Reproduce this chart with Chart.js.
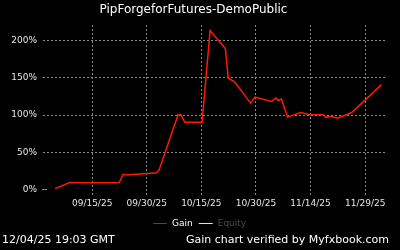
<!DOCTYPE html>
<html>
<head>
<meta charset="utf-8">
<script src="https://cdn.jsdelivr.net/npm/chart.js@4.4.0/dist/chart.umd.min.js"></script>
<style>
  body { margin: 0; background: #000; }
</style>
</head>
<body>
<canvas id="grafico" width="400" height="250"></canvas>
<script>
// dias contados desde el 09/15/25
const dias = [-10.2, -6.3, 7.4, 8.5, 9.5, 17.7, 18.4, 23.6, 24.4, 25.5, 30.2, 32.4, 36.6, 37.4, 39.2, 43.5,
  44.7, 49.3, 50.5, 51.1, 52.0, 53.7, 57.3, 59.8, 63.5, 64.2, 65.8, 67.3, 69.9, 71.3, 79.5];
// ganancia en %
const ganancia = [1, 8.9, 8.9, 20.3, 19.3, 22.4, 26.1, 100.4, 100.4, 90.3, 90.3, 213.9, 189.6, 150, 144.6, 116.2,
  124.3, 118.4, 123, 119.7, 121.6, 97.3, 103.5, 100.4, 100.4, 97.3, 98.1, 95.9, 100.4, 103.5, 141];

const diasEtiquetas = [0, 15, 30, 45, 60, 75];
const etiquetasX = ["09/15/25", "09/30/25", "10/15/25", "10/30/25", "11/14/25", "11/29/25"];
const valoresY = [0, 50, 100, 150, 200];
const series = ["Gain", "Equity"];

const fecha = "12/04/25 19:03 GMT";
const verificado = "Gain chart verified by Myfxbook.com";

const fuente = '"DejaVu Sans", sans-serif';
const gris = '#8a8a8a';
// colores de la leyenda: linea y texto
const lineaLeyenda = ['#ff0000', '#ffff00'];
const textoLeyenda = ['#ffffff', '#4a4a4a'];

// leyenda y textos de abajo
const pieDePagina = {
  id: 'pieDePagina',
  afterDraw(chart) {
    const ctx = chart.ctx;
    const area = chart.chartArea;
    const y0 = chart.scales.y.getPixelForValue(0);
    ctx.save();
    // rayita del 0%
    ctx.fillStyle = gris;
    ctx.fillRect(area.left - 1, Math.round(y0), 5, 1);

    ctx.font = '9px ' + fuente;
    ctx.textBaseline = 'middle';
    ctx.textAlign = 'left';
    let total = 0;
    const anchos = series.map((s, i) => {
      const w = ctx.measureText(s).width;
      total += 19 + w + (i ? 6 : 0);
      return w;
    });
    let x = Math.round(chart.width / 2 - total / 2);
    const yl = 223;
    series.forEach((s, i) => {
      ctx.fillStyle = lineaLeyenda[i];
      ctx.fillRect(x, yl, 14, 1);
      ctx.fillStyle = textoLeyenda[i];
      ctx.fillText(s, x + 19, yl + 0.5);
      x += 19 + anchos[i] + 6;
    });

    ctx.font = '11px ' + fuente;
    ctx.fillStyle = '#fff';
    ctx.textAlign = 'left';
    ctx.fillText(fecha, 2, 240.5);
    ctx.textAlign = 'right';
    ctx.fillText(verificado, 389, 240.5);
    ctx.restore();
  }
};

new Chart(document.getElementById('grafico'), {
  type: 'line',
  data: {
    datasets: [
      {
        label: series[0],
        data: dias.map((d, i) => ({ x: d, y: ganancia[i] })),
        borderColor: '#ff1a00',
        borderWidth: 1.5,
        pointRadius: 0,
        tension: 0
      },
      {
        label: series[1],
        data: [],
        borderColor: '#ffff00'
      }
    ]
  },
  options: {
    responsive: false,
    animation: false,
    layout: { padding: { left: 0, right: 13, top: 0, bottom: 38 } },
    plugins: {
      legend: { display: false },
      tooltip: { enabled: false },
      title: {
        display: true,
        text: 'PipForgeforFutures-DemoPublic',
        color: '#ffffff',
        font: { family: fuente, size: 12, weight: 'normal' },
        padding: { top: 2.5, bottom: 8.1 }
      }
    },
    scales: {
      x: {
        type: 'linear',
        min: -13.5,
        max: 81,
        afterBuildTicks: (s) => { s.ticks = diasEtiquetas.map(v => ({ value: v })); },
        afterFit: (s) => { s.height = 16; },
        ticks: {
          color: '#e6e6e6',
          font: { family: fuente, size: 9 },
          padding: 2,
          maxRotation: 0,
          autoSkip: false,
          callback: (v) => etiquetasX[diasEtiquetas.indexOf(v)]
        },
        grid: { color: gris, drawTicks: false },
        border: { display: false, dash: [2, 2] }
      },
      y: {
        min: -9,
        max: 221.4,
        afterBuildTicks: (s) => { s.ticks = valoresY.map(v => ({ value: v })); },
        afterFit: (s) => { s.width = 43; },
        ticks: {
          color: '#e6e6e6',
          font: { family: fuente, size: 9 },
          padding: 6,
          callback: (v) => v + '%'
        },
        grid: {
          color: (c) => (c.tick && c.tick.value === 0) ? 'transparent' : gris,
          drawTicks: false
        },
        border: { display: false, dash: [2, 2] }
      }
    }
  },
  plugins: [pieDePagina]
});
</script>
</body>
</html>
